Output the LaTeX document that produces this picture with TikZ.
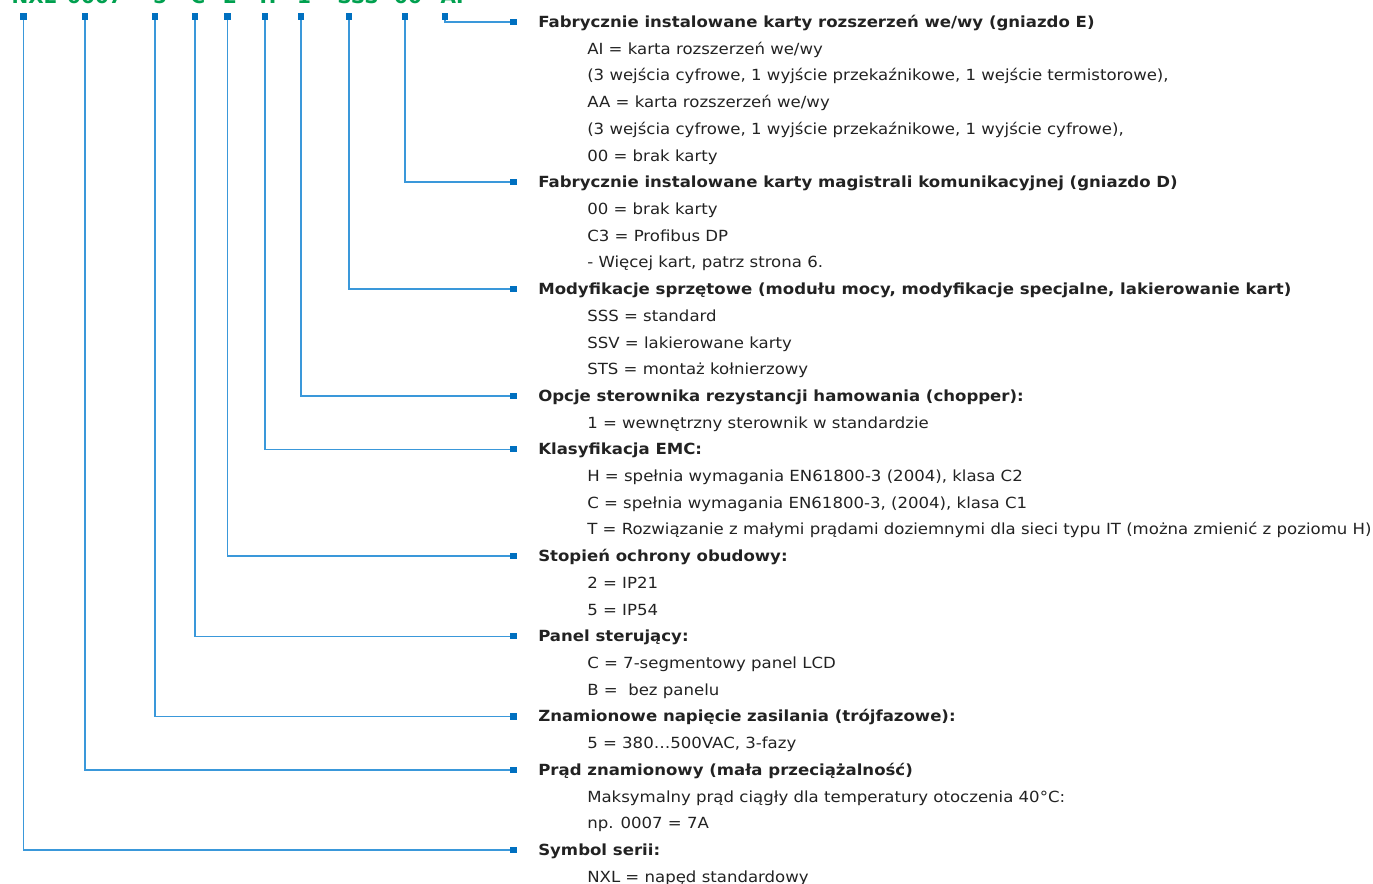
\documentclass[tikz,border=0pt]{standalone}
\usepackage{fontspec}
\setmainfont{DejaVu Sans}[FakeStretch=1.08]
\newfontfamily\codefont{DejaVu Sans}
\definecolor{txt}{HTML}{222222}
\definecolor{grn}{HTML}{00A04F}
\definecolor{sq}{HTML}{0070C0}
\definecolor{ln}{HTML}{3A98DA}
\pgfdeclarelayer{bg}
\pgfsetlayers{bg,main}
\begin{document}
\begin{tikzpicture}[x=0.75pt,y=-0.75pt,
  sqr/.style={fill=sq, inner sep=0pt, minimum size=4.6pt},
  wire/.style={draw=ln, line width=1.25pt},
  head/.style={anchor=base west, inner sep=0pt, font=\fontsize{11.5}{13}\selectfont\bfseries, text=txt},
  item/.style={anchor=base west, inner sep=0pt, font=\fontsize{11.5}{13}\selectfont, text=txt},
  code/.style={anchor=base, inner sep=0pt, font=\codefont\fontsize{15}{18}\selectfont\bfseries, text=grn}]
\useasboundingbox (0,0) rectangle (1373,884);
\clip (0,0) rectangle (1373,884);
% code string
\node[code] (gNXL) at (34,4) {NXL};
\node[code] (g0007) at (95,4) {0007};
\node[code] (g5) at (160,4) {5};
\node[code] (gC) at (198,4) {C};
\node[code] (g2) at (230,4) {2};
\node[code] (gH) at (268,4) {H};
\node[code] (g1) at (304,4) {1};
\node[code] (gSSS) at (358,4) {SSS};
\node[code] (g00) at (408,4) {00};
\node[code] (gAI) at (452,4) {AI};
% top squares
\node[sqr] (tNXL) at (23.5,16.5) {};
\node[sqr] (t0007) at (85,16.5) {};
\node[sqr] (t5) at (155,16.5) {};
\node[sqr] (tC) at (195,16.5) {};
\node[sqr] (t2) at (227.5,16.5) {};
\node[sqr] (tH) at (265,16.5) {};
\node[sqr] (t1) at (301,16.5) {};
\node[sqr] (tSSS) at (349,16.5) {};
\node[sqr] (t00) at (405,16.5) {};
\node[sqr] (tAI) at (445,16.5) {};
% right squares
\node[sqr] (rAI) at (513.5,{22+26.71*0}) {};
\node[sqr] (r00) at (513.5,{22+26.71*6}) {};
\node[sqr] (rSSS) at (513.5,{22+26.71*10}) {};
\node[sqr] (r1) at (513.5,{22+26.71*14}) {};
\node[sqr] (rH) at (513.5,{22+26.71*16}) {};
\node[sqr] (r2) at (513.5,{22+26.71*20}) {};
\node[sqr] (rC) at (513.5,{22+26.71*23}) {};
\node[sqr] (r5) at (513.5,{22+26.71*26}) {};
\node[sqr] (r0007) at (513.5,{22+26.71*28}) {};
\node[sqr] (rNXL) at (513.5,{22+26.71*31}) {};
% connectors
\begin{pgfonlayer}{bg}
\foreach \n in {AI,00,SSS,1,H,2,C,5,0007,NXL}
  \draw[wire] (t\n.center) |- (r\n.center);
\end{pgfonlayer}
% texts
\node[head] (h0) at (538,{27.5+26.71*0}) {Fabrycznie instalowane karty rozszerzeń we/wy (gniazdo E)};
\node[item] (i1) at (587,{27.5+26.71*1}) {AI = karta rozszerzeń we/wy};
\node[item] (i2) at (587,{27.5+26.71*2}) {(3 wejścia cyfrowe, 1 wyjście przekaźnikowe, 1 wejście termistorowe),};
\node[item] (i3) at (587,{27.5+26.71*3}) {AA = karta rozszerzeń we/wy};
\node[item] (i4) at (587,{27.5+26.71*4}) {(3 wejścia cyfrowe, 1 wyjście przekaźnikowe, 1 wyjście cyfrowe),};
\node[item] (i5) at (587,{27.5+26.71*5}) {00 = brak karty};
\node[head] (h6) at (538,{27.5+26.71*6}) {Fabrycznie instalowane karty magistrali komunikacyjnej (gniazdo D)};
\node[item] (i7) at (587,{27.5+26.71*7}) {00 = brak karty};
\node[item] (i8) at (587,{27.5+26.71*8}) {C3 = Profibus DP};
\node[item] (i9) at (587,{27.5+26.71*9}) {- Więcej kart, patrz strona 6.};
\node[head] (h10) at (538,{27.5+26.71*10}) {Modyfikacje sprzętowe (modułu mocy, modyfikacje specjalne, lakierowanie kart)};
\node[item] (i11) at (587,{27.5+26.71*11}) {SSS = standard};
\node[item] (i12) at (587,{27.5+26.71*12}) {SSV = lakierowane karty};
\node[item] (i13) at (587,{27.5+26.71*13}) {STS = montaż kołnierzowy};
\node[head] (h14) at (538,{27.5+26.71*14}) {Opcje sterownika rezystancji hamowania (chopper):};
\node[item] (i15) at (587,{27.5+26.71*15}) {1 = wewnętrzny sterownik w standardzie};
\node[head] (h16) at (538,{27.5+26.71*16}) {Klasyfikacja EMC:};
\node[item] (i17) at (587,{27.5+26.71*17}) {H = spełnia wymagania EN61800-3 (2004), klasa C2};
\node[item] (i18) at (587,{27.5+26.71*18}) {C = spełnia wymagania EN61800-3, (2004), klasa C1};
\node[item] (i19) at (587,{27.5+26.71*19}) {T = Rozwiązanie z małymi prądami doziemnymi dla sieci typu IT (można zmienić z poziomu H)};
\node[head] (h20) at (538,{27.5+26.71*20}) {Stopień ochrony obudowy:};
\node[item] (i21) at (587,{27.5+26.71*21}) {2 = IP21};
\node[item] (i22) at (587,{27.5+26.71*22}) {5 = IP54};
\node[head] (h23) at (538,{27.5+26.71*23}) {Panel sterujący:};
\node[item] (i24) at (587,{27.5+26.71*24}) {C = 7-segmentowy panel LCD};
\node[item] (i25) at (587,{27.5+26.71*25}) {B =~ bez panelu};
\node[head] (h26) at (538,{27.5+26.71*26}) {Znamionowe napięcie zasilania (trójfazowe):};
\node[item] (i27) at (587,{27.5+26.71*27}) {5 = 380…500VAC, 3-fazy};
\node[head] (h28) at (538,{27.5+26.71*28}) {Prąd znamionowy (mała przeciążalność)};
\node[item] (i29) at (587,{27.5+26.71*29}) {Maksymalny prąd ciągły dla temperatury otoczenia 40°C:};
\node[item] (i30) at (587,{27.5+26.71*30}) {np. 0007 = 7A};
\node[head] (h31) at (538,{27.5+26.71*31}) {Symbol serii:};
\node[item] (i32) at (587,{27.5+26.71*32}) {NXL = napęd standardowy};
\end{tikzpicture}
\end{document}
